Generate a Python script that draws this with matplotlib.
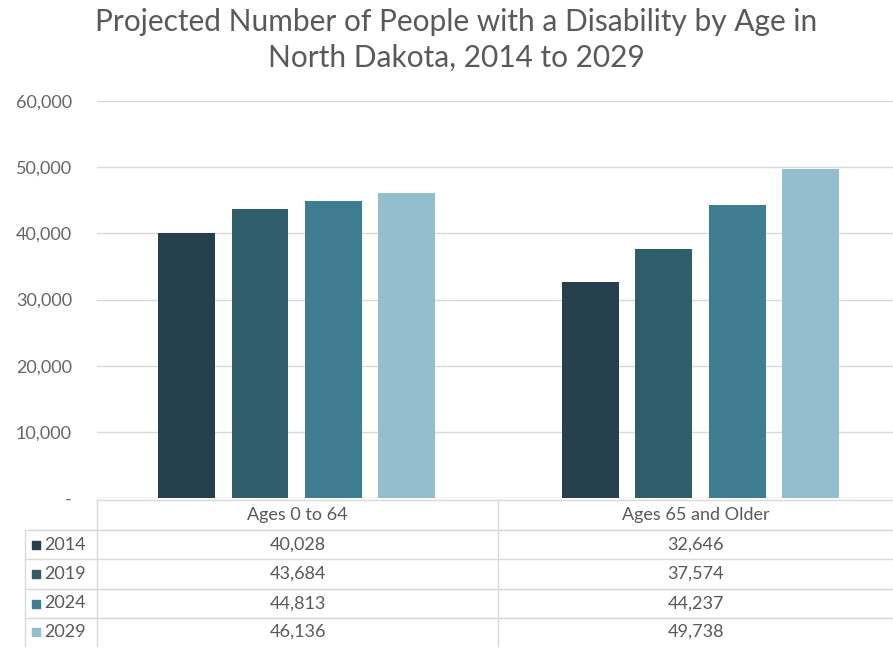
import numpy as np
import matplotlib.pyplot as plt

# data
groups = ["Ages 0 to 64", "Ages 65 and Older"]
years = ["2014", "2019", "2024", "2029"]
v2014 = [40028, 32646]
v2019 = [43684, 37574]
v2024 = [44813, 44237]
v2029 = [46136, 49738]
series = [v2014, v2019, v2024, v2029]
colors = ["#253F4C", "#2F5E6B", "#3F7E92", "#94BECE"]
yticks = [0, 10000, 20000, 30000, 40000, 50000, 60000]

plt.rcParams['font.family'] = ['Lato', 'DejaVu Sans']
txt = "#595959"

W, H = 893, 649
fig = plt.figure(figsize=(W / 100, H / 100), dpi=100)

# main chart area in pixels
x0, x1 = 97, 893
ytop, ybot = 101, 498
ax = fig.add_axes([x0 / W, 1 - ybot / H, (x1 - x0) / W, (ybot - ytop) / H])

x = np.arange(len(groups))
bw = 0.141
step = 0.181
for i, vals in enumerate(series):
    ax.bar(x + (i - 1.5) * step, vals, width=bw, color=colors[i], zorder=3)

ax.set_xlim(-0.494, 1.4765)
ax.set_ylim(0, 60000)
ax.set_yticks(yticks)
ax.set_yticklabels(["-" if t == 0 else f"{t:,}" for t in yticks], color="#666666", fontsize=13)
ax.tick_params(axis='y', length=0, pad=18)
ax.set_xticks([])
ax.grid(axis='y', color="#D9D9D9", linewidth=1, zorder=0)
for s in ax.spines.values():
    s.set_visible(False)

fig.text(456 / W, 1 - 22 / H, "Projected Number of People with a Disability by Age in",
         ha='center', va='center', fontsize=21.5, color=txt)
fig.text(456 / W, 1 - 58 / H, "North Dakota, 2014 to 2029",
         ha='center', va='center', fontsize=21.5, color=txt)

# data table below chart, in pixel coordinates
tb = fig.add_axes([0, 0, 1, 1])
tb.set_xlim(0, W)
tb.set_ylim(H, 0)
tb.axis('off')
tb.patch.set_alpha(0)

lc = "#D9D9D9"
row_y = [500, 530, 559, 589, 618, 646]
xmid = 498
tb.plot([x0, W], [row_y[0], row_y[0]], color=lc, lw=1)
for yy in row_y[1:-1]:
    tb.plot([25, W], [yy, yy], color=lc, lw=1)
tb.plot([x0, x0], [row_y[0], row_y[-1]], color=lc, lw=1)
tb.plot([xmid, xmid], [row_y[0], row_y[-1]], color=lc, lw=1)
tb.plot([25, 25], [row_y[1], row_y[-1]], color=lc, lw=1)

centers = [(x0 + xmid) / 2, (xmid + W) / 2]
for j, g in enumerate(groups):
    tb.text(centers[j], (row_y[0] + row_y[1]) / 2, g, ha='center', va='center',
            fontsize=13, color=txt)
for i, yr in enumerate(years):
    yc = (row_y[i + 1] + row_y[i + 2]) / 2
    tb.scatter([36], [yc], marker='s', s=40, color=colors[i])
    tb.text(44, yc, yr, ha='left', va='center', fontsize=13, color=txt)
    for j in range(len(groups)):
        tb.text(centers[j], yc, f"{series[i][j]:,}", ha='center', va='center',
                fontsize=13, color=txt)

fig.savefig("out.png", dpi=100)
